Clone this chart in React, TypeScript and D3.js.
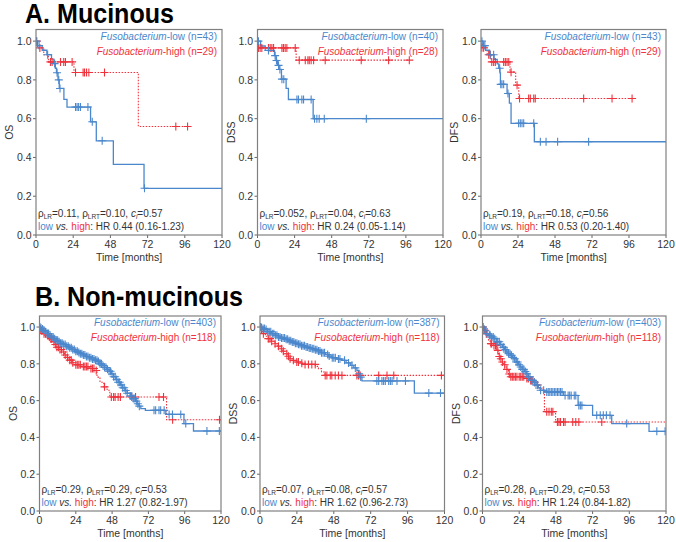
import React from 'react';
import * as d3 from 'd3';

type Step = [number, number];

// ---------- A. Mucinous ----------
const aOsLowSteps: Step[] = [[1, 0.977], [4, 0.953], [7, 0.93], [10, 0.907], [11.5, 0.884], [12.5, 0.86], [13.2, 0.837], [14.2, 0.80], [15, 0.756], [18, 0.70], [20, 0.66], [35.2, 0.584], [38.9, 0.486], [49.9, 0.364], [69.7, 0.241]];
const aOsLowCensor = [0.3, 2, 7.5, 12, 13.6, 14.7, 15.5, 25.5, 26.5, 27.5, 28.7, 33.5, 36.3, 42.7, 70];
const aOsHighSteps: Step[] = [[1, 0.965], [5, 0.93], [8, 0.893], [24.5, 0.838], [66, 0.56]];
const aOsHighCensor = [0.5, 2.5, 9.3, 10.4, 15.8, 17.9, 19, 23.3, 25.5, 30.4, 31.3, 32.6, 34.1, 44.2, 90.2, 97.8];

const aDssLowSteps: Step[] = [[2, 0.975], [5, 0.952], [11, 0.925], [12, 0.90], [13, 0.875], [14, 0.854], [15.5, 0.804], [18.5, 0.756], [20, 0.699], [36, 0.60]];
const aDssLowCensor = [0.6, 7.1, 11.4, 12.3, 13.6, 14.5, 15.8, 17, 25.5, 26.5, 28.7, 29.8, 34.7, 36.9, 38.4, 39.9, 43.2, 70.4];
const aDssHighSteps: Step[] = [[0.4, 0.965], [25, 0.902]];
const aDssHighCensor = [0.6, 1.7, 2.8, 7.1, 8.2, 9.3, 10.4, 15.8, 16.8, 17.9, 19, 24.4, 27, 30.9, 32.6, 33.5, 34.7, 36.3, 43.8, 67.1, 84.8, 98.2];

const aDfsLowSteps: Step[] = [[1.2, 0.977], [3, 0.953], [5.5, 0.93], [8.5, 0.906], [10.5, 0.883], [11.5, 0.86], [12.3, 0.836], [12.6, 0.777], [16.9, 0.73], [18.4, 0.68], [19.5, 0.576], [34.6, 0.481]];
const aDfsLowCensor = [0.6, 1.7, 2.5, 6, 8.2, 12.1, 12.8, 13.6, 14.7, 17.5, 24.4, 25.5, 26.6, 27.7, 34.2, 38.5, 42.2, 49.7, 69.8];
const aDfsHighSteps: Step[] = [[0.5, 0.966], [4, 0.93], [6.5, 0.893], [18.8, 0.84], [22.5, 0.773], [24.5, 0.704]];
const aDfsHighCensor = [0.6, 1.7, 5, 6, 7, 8.2, 9.3, 14.7, 15.8, 16.9, 18, 19.5, 23.4, 25, 30.9, 32, 34.2, 35.2, 66.6, 85, 98];

// ---------- B. Non-mucinous ----------
const bOsLowSteps: Step[] = [[0.5, 0.995], [1.5, 0.99], [2.5, 0.982], [3.5, 0.975], [5, 0.965], [6.5, 0.955], [8, 0.946], [9.5, 0.937], [11, 0.928], [12.5, 0.92], [14, 0.912], [16, 0.905], [17.5, 0.896], [19.5, 0.887], [21.5, 0.878], [23.5, 0.869], [25.5, 0.862], [27, 0.855], [29, 0.848], [31, 0.84], [33, 0.833], [35, 0.826], [37, 0.82], [38.5, 0.812], [40, 0.80], [41.5, 0.79], [43, 0.78], [44.5, 0.77], [46, 0.76], [47.5, 0.745], [49, 0.73], [50.5, 0.715], [52, 0.70], [53.5, 0.685], [55, 0.67], [56.5, 0.655], [58, 0.64], [60, 0.625], [62, 0.611], [63.5, 0.597], [64.6, 0.583], [65.8, 0.57], [67, 0.556], [70, 0.547], [83.5, 0.525], [95.5, 0.475], [101.8, 0.435]];
const bOsLowCensor = [0.3, 1, 2, 3, 4, 5, 6, 7, 8, 9, 10, 11, 12, 13, 14, 15, 16, 17, 18, 19, 20, 21, 22, 23, 24, 25, 26, 27, 28, 29, 30, 31, 32, 33, 34, 35, 36, 37, 38, 39, 40, 41, 42, 43, 44, 45, 46, 47, 48, 49, 50, 51, 52, 53, 54, 55, 56, 57, 58, 60, 61, 62, 63, 64, 65, 66, 75.7, 76.8, 79, 80.1, 82.4, 85.7, 87.9, 93.4, 96.7, 110.7, 118.9];
const bOsHighSteps: Step[] = [[0.5, 0.99], [1.5, 0.98], [2.5, 0.964], [4.5, 0.955], [6, 0.946], [7.1, 0.937], [8.5, 0.92], [10, 0.905], [11.5, 0.89], [13, 0.878], [14.9, 0.864], [16.5, 0.848], [18, 0.835], [19.5, 0.82], [21.5, 0.806], [23, 0.795], [28, 0.785], [33, 0.775], [36.5, 0.764], [38, 0.728], [40, 0.70], [42.5, 0.675], [44.7, 0.656], [46.5, 0.62], [84, 0.496]];
const bOsHighCensor = [0.5, 1.5, 3, 4, 5.5, 6.5, 7.5, 8, 9.5, 10.5, 11.5, 12.5, 13.5, 14.5, 16, 17, 18.5, 20, 21, 22, 24, 25, 26, 27, 29, 30, 31, 32, 34, 35, 36, 37.5, 43, 47.5, 49, 50, 52, 53.5, 61, 63.5, 79, 82, 88, 119];

const bDssLowSteps: Step[] = [[0.5, 0.997], [1.5, 0.992], [3.3, 0.986], [5, 0.975], [7.6, 0.964], [10, 0.955], [12, 0.946], [14, 0.94], [16.3, 0.933], [18.5, 0.925], [20.7, 0.918], [23, 0.912], [25, 0.906], [27, 0.898], [29.3, 0.891], [31.5, 0.886], [33.7, 0.882], [36, 0.876], [38, 0.87], [40, 0.86], [42.4, 0.851], [44.5, 0.842], [46.7, 0.833], [50, 0.826], [53.3, 0.819], [56, 0.805], [58.7, 0.792], [61, 0.778], [63, 0.764], [64, 0.746], [65.2, 0.728], [66.3, 0.707], [100.4, 0.641]];
const bDssLowCensor = [0.3, 1, 2, 3, 4, 5, 6, 7, 8, 9, 10, 11, 12, 13, 14, 15, 16, 17, 18, 19, 20, 21, 22, 23, 24, 25, 26, 27, 28, 29, 30, 31, 32, 33, 34, 35, 36, 37, 38, 39, 40, 41, 42, 44, 45, 47, 48, 49, 51, 52, 55, 57.6, 59.8, 62, 64.5, 65.5, 76, 77.2, 79.3, 80.4, 81.5, 83.7, 84.8, 85.9, 89.1, 94.6, 109.8, 117.4];
const bDssHighSteps: Step[] = [[0.5, 0.99], [1.5, 0.975], [2.2, 0.964], [3.5, 0.95], [5.4, 0.937], [7.5, 0.923], [9.8, 0.909], [11.5, 0.896], [13, 0.882], [14.5, 0.868], [16.3, 0.855], [18, 0.841], [19.6, 0.828], [21.5, 0.819], [23.9, 0.81], [26.5, 0.803], [29.3, 0.797], [36, 0.786], [38, 0.774], [40, 0.756], [42.2, 0.737]];
const bDssHighCensor = [0.3, 1, 2.2, 5.4, 6.5, 7.6, 9.8, 12, 14.1, 15.2, 17.4, 18.5, 19.6, 21.7, 23.9, 25, 27.2, 29.3, 31.5, 33.7, 35.9, 42.4, 43.5, 45.7, 46.7, 48.9, 51, 53.3, 63, 64.1, 65.2, 77.2, 82.6, 87, 118];

const bDfsLowSteps: Step[] = [[0.5, 0.99], [1.5, 0.98], [2.8, 0.964], [4, 0.955], [5.5, 0.946], [7.2, 0.937], [9, 0.92], [11.5, 0.905], [13, 0.89], [14.5, 0.877], [15.9, 0.864], [17, 0.855], [18.1, 0.846], [19.5, 0.835], [20.3, 0.828], [22, 0.81], [23.5, 0.795], [24.6, 0.783], [26, 0.77], [27.5, 0.758], [29, 0.746], [30, 0.73], [31.2, 0.71], [33.3, 0.70], [35, 0.685], [36.5, 0.67], [37.7, 0.656], [41, 0.647], [53, 0.628], [62.5, 0.574], [72, 0.52], [84.5, 0.475], [108.9, 0.433]];
const bDfsLowCensor = [0.3, 1, 2, 3, 4.5, 5, 6, 7, 8, 9.5, 10, 11, 12, 13.5, 14, 15, 16, 17, 18, 19, 20, 21, 22, 23, 24, 25, 26, 27, 28, 29, 30, 31, 32, 33, 34, 35, 36, 38, 40, 42, 43, 44, 45, 46, 47, 48, 49, 50, 51, 52, 54, 56, 57, 58, 60, 61, 63, 64, 65, 74.7, 77, 79, 81, 83.4, 94.3, 114, 119.4];
const bDfsHighSteps: Step[] = [[0.5, 0.982], [2, 0.964], [3, 0.946], [4, 0.928], [5, 0.91], [7, 0.90], [9.4, 0.873], [10.5, 0.84], [11.6, 0.828], [13, 0.81], [13.8, 0.795], [15.5, 0.77], [17, 0.745], [18, 0.73], [28, 0.72], [31, 0.71], [33.3, 0.70], [35, 0.685], [37, 0.67], [38.8, 0.656], [40.5, 0.54], [47.8, 0.484]];
const bDfsHighCensor = [0.3, 1, 1.5, 2.5, 5.5, 6, 7.5, 8.5, 9, 10, 11, 12, 13, 14.5, 16, 17.5, 18.5, 19.5, 20.5, 21.5, 22.5, 24, 25, 26, 27, 29, 30, 31.5, 32.5, 34, 36, 42, 43.5, 45, 46, 49, 50, 51, 53, 54, 59, 61, 63, 78];

// ---------- labels ----------
const panelMeasures = ['OS', 'DSS', 'DFS', 'OS', 'DSS', 'DFS'];
const lowN = [43, 40, 43, 403, 387, 403];
const highN = [29, 28, 29, 118, 118, 118];
const pLR = ['0.11', '0.052', '0.19', '0.29', '0.07', '0.28'];
const pLRT = ['0.10', '0.04', '0.18', '0.29', '0.08', '0.29'];
const cIndex = ['0.57', '0.63', '0.56', '0.53', '0.57', '0.53'];
const hrText = ['0.44 (0.16-1.23)', '0.24 (0.05-1.14)', '0.53 (0.20-1.40)', '1.27 (0.82-1.97)', '1.62 (0.96-2.73)', '1.24 (0.84-1.82)'];
const lowEnd = [125, 125, 125, 125, 125, 125];
const highEnd = [97.8, 98.2, 98, 125, 125, 125];
const xTicks = [0, 24, 48, 72, 96, 120];
const yTicks = [0, 0.2, 0.4, 0.6, 0.8, 1.0];
const sectionTitles = ['A. Mucinous', 'B. Non-mucinous'];

const lowStepsAll = [aOsLowSteps, aDssLowSteps, aDfsLowSteps, bOsLowSteps, bDssLowSteps, bDfsLowSteps];
const lowCensorAll = [aOsLowCensor, aDssLowCensor, aDfsLowCensor, bOsLowCensor, bDssLowCensor, bDfsLowCensor];
const highStepsAll = [aOsHighSteps, aDssHighSteps, aDfsHighSteps, bOsHighSteps, bDssHighSteps, bDfsHighSteps];
const highCensorAll = [aOsHighCensor, aDssHighCensor, aDfsHighCensor, bOsHighCensor, bDssHighCensor, bDfsHighCensor];

// ---------- layout ----------
const frames = [
  { x0: 36, x1: 222, y0: 29.5, y1: 235 },
  { x0: 257.5, x1: 443, y0: 29.5, y1: 235 },
  { x0: 481, x1: 666, y0: 29.5, y1: 235 },
  { x0: 39.5, x1: 221, y0: 316, y1: 511 },
  { x0: 260, x1: 444.5, y0: 316, y1: 511 },
  { x0: 482.5, x1: 666, y0: 316, y1: 511 },
];

const BLUE = '#4a87cc';
const RED = '#f0323c';
const TEXT = '#333333';
const FONT = "'Liberation Sans', Arial, Helvetica, sans-serif";

function survAt(steps: Step[], t: number): number {
  let s = 1;
  for (const st of steps) if (st[0] <= t) s = st[1];
  return s;
}

function Panel({ i }: { i: number }) {
  const f = frames[i];
  const x = d3.scaleLinear().domain([0, 120]).range([f.x0, f.x1]);
  const y = d3.scaleLinear().domain([0, 1.06]).range([f.y1, f.y0]);
  const line = d3.line<Step>().x(d => x(d[0])).y(d => y(d[1])).curve(d3.curveStepAfter);
  const mk = (steps: Step[], end: number): Step[] => [[0, 1], ...steps, [end, steps[steps.length - 1][1]]];
  const lowPts = mk(lowStepsAll[i], lowEnd[i]);
  const highPts = mk(highStepsAll[i], highEnd[i]);
  const clipId = `clip${i}`;
  const cross = (t: number, s: number, color: string, k: string) => {
    const cx = x(t), cy = y(s);
    return (
      <g key={k} stroke={color} strokeWidth={1.1}>
        <line x1={cx - 4} x2={cx + 4} y1={cy} y2={cy} />
        <line x1={cx} x2={cx} y1={cy - 4} y2={cy + 4} />
      </g>
    );
  };
  const midY = (f.y0 + f.y1) / 2;
  return (
    <g fontFamily={FONT}>
      <defs>
        <clipPath id={clipId}>
          <rect x={f.x0} y={f.y0 - 6} width={f.x1 - f.x0} height={f.y1 - f.y0 + 6} />
        </clipPath>
      </defs>
      {yTicks.map(v => (
        <g key={'y' + v}>
          <line x1={f.x0 - 3} x2={f.x0} y1={y(v)} y2={y(v)} stroke="#666" />
          <text x={f.x0 - 4.5} y={y(v)} dy="0.36em" textAnchor="end" fontSize={10.5} fill={TEXT}>{d3.format('.1f')(v)}</text>
        </g>
      ))}
      {xTicks.map(v => (
        <g key={'x' + v}>
          <line x1={x(v)} x2={x(v)} y1={f.y1} y2={f.y1 + 3} stroke="#666" />
          <text x={x(v)} y={f.y1 + 13} textAnchor="middle" fontSize={10.5} fill={TEXT}>{v}</text>
        </g>
      ))}
      <text transform={`translate(${f.x0 - 23},${midY}) rotate(-90)`} textAnchor="middle" fontSize={10.5} fill={TEXT}>{panelMeasures[i]}</text>
      <text x={(f.x0 + f.x1) / 2} y={f.y1 + 26} textAnchor="middle" fontSize={10.5} fill={TEXT}>Time [months]</text>
      <g clipPath={`url(#${clipId})`}>
        <path d={line(highPts) || ''} fill="none" stroke={RED} strokeWidth={1.1} strokeDasharray="1.5 1.5" />
        <path d={line(lowPts) || ''} fill="none" stroke={BLUE} strokeWidth={1.3} />
        {highCensorAll[i].map((t, j) => cross(t, survAt(highStepsAll[i], t), RED, 'h' + j))}
        {lowCensorAll[i].map((t, j) => cross(t, survAt(lowStepsAll[i], t), BLUE, 'l' + j))}
      </g>
      <rect x={f.x0} y={f.y0} width={f.x1 - f.x0} height={f.y1 - f.y0} fill="none" stroke="#808080" strokeWidth={1.2} />
      <text x={f.x1 - 5} y={f.y0 + 10} textAnchor="end" fontSize={10} fill={BLUE}>
        <tspan fontStyle="italic">Fusobacterium</tspan>-low (n={lowN[i]})
      </text>
      <text x={f.x1 - 5} y={f.y0 + 25} textAnchor="end" fontSize={10} fill={RED}>
        <tspan fontStyle="italic">Fusobacterium</tspan>-high (n={highN[i]})
      </text>
      <text x={f.x0 + 2} y={f.y1 - 18} fontSize={10} fill={TEXT}>
        ρ<tspan fontSize={6.5} dy={2}>LR</tspan><tspan dy={-2}>={pLR[i]}, ρ</tspan><tspan fontSize={6.5} dy={2}>LRT</tspan><tspan dy={-2}>={pLRT[i]}, </tspan><tspan fontStyle="italic">c</tspan><tspan fontSize={6.5} fontStyle="italic" dy={2}>i</tspan><tspan dy={-2}>={cIndex[i]}</tspan>
      </text>
      <text x={f.x0 + 2} y={f.y1 - 5.5} fontSize={10} fill={TEXT}>
        <tspan fill={BLUE}>low</tspan> <tspan fontStyle="italic">vs.</tspan> <tspan fill={RED}>high</tspan>: HR {hrText[i]}
      </text>
    </g>
  );
}

export default function App() {
  return (
    <svg width={676} height={542} style={{ position: 'absolute', left: 0, top: 0, background: '#fff' }}>
      <rect width={676} height={542} fill="#fff" />
      <text x={25} y={23} fontFamily={FONT} fontWeight="bold" fontSize={27} fill="#000" textLength={149} lengthAdjust="spacingAndGlyphs">{sectionTitles[0]}</text>
      <text x={35} y={306} fontFamily={FONT} fontWeight="bold" fontSize={27} fill="#000" textLength={208} lengthAdjust="spacingAndGlyphs">{sectionTitles[1]}</text>
      {frames.map((_, i) => <Panel key={i} i={i} />)}
    </svg>
  );
}
